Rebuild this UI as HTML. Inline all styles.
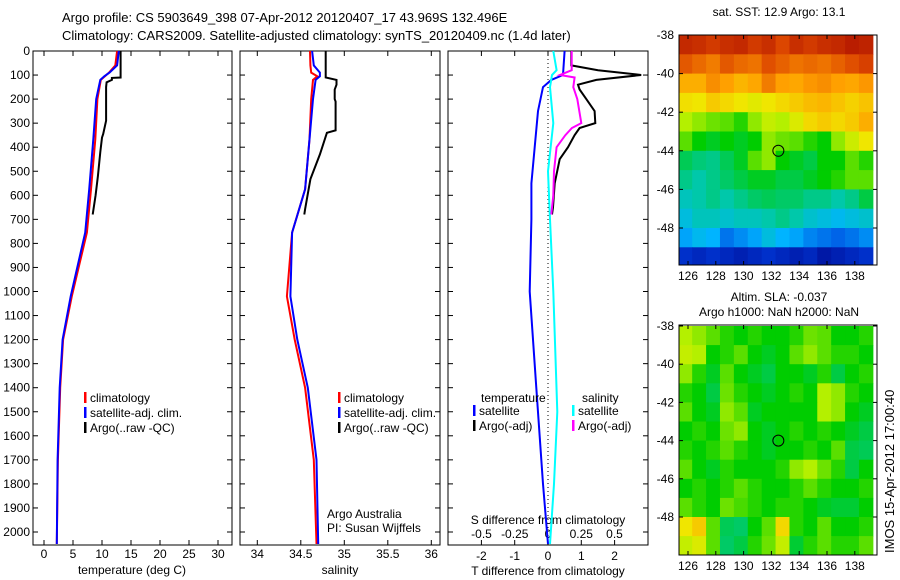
<!DOCTYPE html>
<html><head><meta charset="utf-8"><style>
body{margin:0;background:#fff}
svg{display:block;font-family:"Liberation Sans",sans-serif;font-size:12px}
</style></head><body>
<svg id="fig" width="900" height="580" xmlns="http://www.w3.org/2000/svg">
<rect width="900" height="580" fill="#fff"/>
<text x="62" y="22" font-size="13">Argo profile: CS 5903649_398 07-Apr-2012 20120407_17 43.969S 132.496E</text>
<text x="62" y="40" font-size="13">Climatology: CARS2009. Satellite-adjusted climatology: synTS_20120409.nc (1.4d later)</text>
<g id="p1"></g>
<g id="p2"></g>
<g id="p3"></g>
<g id="m1"></g>
<g id="m2"></g>
<text transform="translate(894,553) rotate(-90)" font-size="13">IMOS 15-Apr-2012 17:00:40</text>
</svg>
<script>
// ---- data ----
const argoTdepth=[0,110,112,120,130,150,290,345,360,420,520,600,680];
const argoT=[13.2,13.2,11.7,11.7,10.8,10.7,10.7,10.2,10.0,9.7,9.3,8.9,8.4];
const climDepth=[0,60,90,105,120,200,367,575,755,1020,1200,1400,1700,2050];
const climT=[12.6,12.3,11.2,10.5,9.8,9.2,8.85,8.1,7.4,4.8,3.3,2.8,2.4,2.2];
const satT=[12.9,12.6,11.3,10.4,9.7,9.0,8.5,7.8,7.1,4.6,3.2,2.7,2.35,2.2];
const argoSdepth=[0,110,120,140,160,200,210,330,340,430,533,658,680];
const argoS=[34.786,34.786,34.91,34.91,34.89,34.89,34.90,34.90,34.80,34.72,34.61,34.55,34.54];
const climS=[34.606,34.61,34.62,34.69,34.64,34.62,34.60,34.55,34.40,34.34,34.43,34.55,34.65,34.68];
const satS=[34.63,34.65,34.72,34.72,34.67,34.64,34.60,34.55,34.40,34.38,34.46,34.58,34.68,34.70];
const dTsatDepth=[0,100,120,150,250,400,550,700,1000,1400,1800,2050];
const dTsat=[0.5,0.45,0.1,-0.15,-0.3,-0.4,-0.5,-0.5,-0.55,-0.35,-0.15,0];
const dTargoDepth=[0,60,80,100,120,140,160,200,250,300,320,350,400,450,550,650,680];
const dTargo=[0.7,0.7,1.5,2.8,1.45,0.9,0.95,1.15,1.4,1.42,0.95,0.8,0.6,0.35,0.2,0.15,0.12];
const dSargoDepth=[0,80,100,110,150,200,300,320,350,400,500,600,680];
const dSargo=[0.178,0.178,0.09,0.2,0.19,0.22,0.25,0.18,0.13,0.065,0.045,0.04,0.025];
const dSsatDepth=[0,80,100,150,300,500,700,1000,1500,1800,2050];
const dSsat=[0.04,0.065,0.03,0.015,0.04,0,0.015,0.04,0.07,0.045,0.015];
const depthTicks=[0,100,200,300,400,500,600,700,800,900,1000,1100,1200,1300,1400,1500,1600,1700,1800,1900,2000];
const tempTicks=[0,5,10,15,20,25,30];
const salTicks=[34,34.5,35,35.5,36];
const tdTicks=[-2,-1,0,1,2];
const sdTicks=[-0.5,-0.25,0,0.25,0.5];
const sdTickLabels=["-0.5","-0.25","0","0.25","0.5"];
const lonTicks=[126,128,130,132,134,136,138];
const latTicks=[-38,-40,-42,-44,-46,-48];
const sstGrid=[
[.93,.92,.9,.92,.93,.9,.92,.88,.92,.9,.92,.93,.95,.94],
[.86,.84,.82,.86,.84,.83,.87,.85,.83,.84,.83,.85,.87,.89],
[.76,.76,.8,.78,.75,.77,.82,.78,.77,.79,.8,.78,.77,.79],
[.69,.68,.72,.7,.68,.66,.68,.7,.72,.74,.75,.73,.71,.73],
[.6,.58,.56,.55,.52,.58,.62,.6,.65,.7,.72,.7,.72,.76],
[.55,.5,.48,.5,.48,.5,.58,.56,.55,.52,.5,.58,.63,.68],
[.45,.43,.42,.45,.48,.55,.58,.5,.48,.46,.5,.5,.55,.52],
[.42,.4,.42,.44,.46,.48,.48,.46,.46,.48,.5,.52,.55,.55],
[.38,.4,.42,.4,.42,.44,.45,.44,.44,.42,.42,.4,.42,.46],
[.34,.38,.38,.36,.38,.38,.4,.42,.4,.36,.34,.32,.34,.36],
[.28,.32,.3,.22,.25,.28,.34,.3,.28,.24,.22,.2,.22,.25],
[.12,.1,.12,.1,.08,.1,.12,.1,.08,.1,.06,.08,.1,.12]];
const slaGrid=[
[.6,.58,.55,.52,.5,.52,.5,.5,.52,.56,.55,.5,.5,.52],
[.62,.6,.5,.52,.55,.5,.48,.5,.55,.58,.55,.52,.52,.5],
[.58,.52,.48,.55,.5,.48,.46,.5,.5,.48,.52,.46,.5,.52],
[.52,.5,.46,.56,.52,.5,.48,.5,.52,.5,.6,.58,.52,.5],
[.55,.5,.48,.58,.55,.48,.5,.5,.5,.5,.6,.58,.5,.48],
[.5,.52,.5,.56,.58,.5,.48,.5,.52,.5,.52,.5,.48,.46],
[.52,.5,.52,.55,.52,.5,.48,.5,.5,.52,.5,.55,.46,.45],
[.55,.5,.48,.52,.5,.5,.5,.52,.58,.6,.56,.52,.46,.5],
[.5,.52,.5,.52,.55,.52,.5,.5,.52,.55,.52,.5,.5,.52],
[.55,.52,.5,.56,.54,.52,.5,.52,.52,.5,.48,.47,.47,.5],
[.68,.72,.55,.45,.44,.5,.55,.7,.52,.5,.55,.5,.5,.52],
[.62,.65,.55,.44,.46,.52,.56,.62,.47,.52,.55,.52,.52,.55]];
const gridLon0=125.3, gridLat0=-38;
const floatLon=132.5, floatLat=-44;

const NS="http://www.w3.org/2000/svg";
function el(parent,tag,attrs,text){const e=document.createElementNS(NS,tag);for(const k in attrs)e.setAttribute(k,attrs[k]);if(text!==undefined)e.textContent=text;parent.appendChild(e);return e;}
const TOP=51,BOT=545;
const yD=d=>TOP+0.2405*d;

function panelFrame(g,x0,x1,leftLabels){
  const f=el(g,'rect',{x:x0,y:TOP,width:x1-x0,height:BOT-TOP,fill:'none',stroke:'#000','stroke-width':1});
  
  
  depthTicks.forEach(d=>{
    const y=yD(d);
    el(g,'line',{x1:x0,x2:x0+5,y1:y,y2:y,stroke:'#000'});
    el(g,'line',{x1:x1-5,x2:x1,y1:y,y2:y,stroke:'#000'});
    if(leftLabels){const t=el(g,'text',{x:x0-3,y:y+4,'text-anchor':'end'},String(d));
      
      }
  });
}
function xTicks(g,ticks,labels,xf,ly){
  ticks.forEach((v,i)=>{const x=xf(v);
    el(g,'line',{x1:x,x2:x,y1:TOP,y2:TOP+5,stroke:'#000'});
    el(g,'line',{x1:x,x2:x,y1:BOT-5,y2:BOT,stroke:'#000'});
    const t=el(g,'text',{x:x,y:ly,'text-anchor':'middle'},labels[i]);
    
    });
}
function line(g,xs,ds,xf,color,w,name){
  const pts=xs.map((v,i)=>xf(v).toFixed(1)+','+yD(ds[i]).toFixed(1)).join(' ');
  const p=el(g,'polyline',{points:pts,fill:'none',stroke:color,'stroke-width':w,'stroke-linejoin':'miter'});
  
  
}
function legend(g,x,y,color,text,name){
  el(g,'rect',{x:x,y:y-10,width:2.5,height:11,fill:color});
  const t=el(g,'text',{x:x+6,y:y},text);
  
  
}
const p1=document.getElementById('p1');
const xT=v=>44+5.8*v;
panelFrame(p1,33,232,true);
xTicks(p1,tempTicks,tempTicks.map(String),xT,558);
el(p1,'text',{x:132,y:574,'text-anchor':'middle'},'temperature (deg C)');
line(p1,argoT,argoTdepth,xT,'#000',2,'argo-temperature-line');
line(p1,climT,climDepth,xT,'#f00',2,'climatology-temperature-line');
line(p1,satT,climDepth,xT,'#00f',2,'satellite-temperature-line');
legend(p1,84,402,'#f00','climatology','legend-climatology');
legend(p1,84,417,'#00f','satellite-adj. clim.','legend-satellite');
legend(p1,84,432,'#000','Argo(..raw -QC)','legend-argo');
const p2=document.getElementById('p2');
const xS=v=>257.3+87*(v-34);
panelFrame(p2,240,440,false);
xTicks(p2,salTicks,["34","34.5","35","35.5","36"],xS,558);
el(p2,'text',{x:340,y:574,'text-anchor':'middle'},'salinity');
line(p2,argoS,argoSdepth,xS,'#000',2,'argo-salinity-line');
line(p2,climS,climDepth,xS,'#f00',2,'climatology-salinity-line');
line(p2,satS,climDepth,xS,'#00f',2,'satellite-salinity-line');
legend(p2,338,402,'#f00','climatology','legend-climatology');
legend(p2,338,417,'#00f','satellite-adj. clim.','legend-satellite');
legend(p2,338,432,'#000','Argo(..raw -QC)','legend-argo');
el(p2,'text',{x:327,y:518},'Argo Australia');
el(p2,'text',{x:327,y:532},'PI: Susan Wijffels');
const p3=document.getElementById('p3');
const xTd=v=>548+33.3*v;
const xSd=v=>548+133*v;
panelFrame(p3,448,648,false);
xTicks(p3,tdTicks,tdTicks.map(String),xTd,560);
sdTicks.forEach((v,i)=>{const t=el(p3,'text',{x:xSd(v),y:538,'text-anchor':'middle'},sdTickLabels[i]);
  
  });
el(p3,'text',{x:548,y:524,'text-anchor':'middle'},'S difference from climatology');
el(p3,'text',{x:548,y:575,'text-anchor':'middle'},'T difference from climatology');
el(p3,'line',{x1:548,x2:548,y1:TOP,y2:BOT,stroke:'#000','stroke-dasharray':'1,3'});
line(p3,dTsat,dTsatDepth,xTd,'#00f',2,'satellite-t-diff-line');
line(p3,dSsat,dSsatDepth,xSd,'#0ff',2,'satellite-s-diff-line');
line(p3,dTargo,dTargoDepth,xTd,'#000',2,'argo-t-diff-line');
line(p3,dSargo,dSargoDepth,xSd,'#f0f',2,'argo-s-diff-line');
el(p3,'text',{x:481,y:402},'temperature');
legend(p3,473,415,'#00f','satellite','legend-t-satellite');
legend(p3,473,430,'#000','Argo(-adj)','legend-t-argo');
el(p3,'text',{x:582,y:402},'salinity');
legend(p3,572,415,'#0ff','satellite','legend-s-satellite');
legend(p3,572,430,'#f0f','Argo(-adj)','legend-s-argo');

const stops=[[0,[0,0,130]],[.15,[0,60,220]],[.3,[0,180,255]],[.4,[0,200,170]],[.5,[0,205,0]],[.6,[180,240,0]],[.68,[240,230,0]],[.78,[255,160,0]],[.88,[220,70,0]],[1,[160,0,0]]];
function cmap(v){v=Math.max(0,Math.min(1,v));for(let i=1;i<stops.length;i++){if(v<=stops[i][0]){const a=stops[i-1],b=stops[i];const t=(v-a[0])/(b[0]-a[0]);return 'rgb('+a[1].map((c,k)=>Math.round(c+(b[1][k]-c)*t)).join(',')+')';}}return 'rgb(160,0,0)';}
function drawMap(g,grid,x0,x1,y0,y1,lat38y,pxPerLat){
  const lonX=lon=>688+13.9*(lon-126);
  const latY=lat=>lat38y+pxPerLat*(-38-lat);
  const cg=el(g,'g',{});
  el(cg,'clipPath',{id:'c'+g.id}).appendChild(document.createElementNS(NS,'rect'));
  const cr=cg.querySelector('clipPath rect');cr.setAttribute('x',x0);cr.setAttribute('y',y0);cr.setAttribute('width',x1-x0);cr.setAttribute('height',y1-y0);
  const cells=el(cg,'g',{'clip-path':'url(#c'+g.id+')'});
  grid.forEach((row,r)=>row.forEach((v,c)=>{
    const xa=lonX(gridLon0+c),xb=lonX(gridLon0+c+1),ya=latY(gridLat0-r),yb=latY(gridLat0-r-1);
    const rc=el(cells,'rect',{x:xa,y:ya,width:xb-xa+0.5,height:yb-ya+0.5,fill:cmap(v)});
    
    
  }));
  el(g,'rect',{x:x0,y:y0,width:x1-x0,height:y1-y0,fill:'none',stroke:'#000'});
  lonTicks.forEach(l=>{const x=lonX(l);
    el(g,'line',{x1:x,x2:x,y1:y0,y2:y0+4,stroke:'#000'});
    el(g,'line',{x1:x,x2:x,y1:y1-4,y2:y1,stroke:'#000'});
    const t=el(g,'text',{x:x,y:y1+15,'text-anchor':'middle'},String(l));
    
    });
  latTicks.forEach(l=>{const y=latY(l);
    el(g,'line',{x1:x0,x2:x0+4,y1:y,y2:y,stroke:'#000'});
    el(g,'line',{x1:x1-4,x2:x1,y1:y,y2:y,stroke:'#000'});
    const t=el(g,'text',{x:x0-5,y:y+4,'text-anchor':'end'},String(l));
    
    });
  const m=el(g,'circle',{cx:lonX(floatLon),cy:latY(floatLat),r:5.5,fill:'none',stroke:'#000'});
  
  
}
const m1=document.getElementById('m1');
drawMap(m1,sstGrid,679,877,35,265,35,19.3);
el(m1,'text',{x:779,y:16,'text-anchor':'middle'},'sat. SST: 12.9 Argo: 13.1');
const m2=document.getElementById('m2');
drawMap(m2,slaGrid,679,877,325,555,326,19.1);
el(m2,'text',{x:779,y:301,'text-anchor':'middle'},'Altim. SLA: -0.037');
el(m2,'text',{x:779,y:316,'text-anchor':'middle'},'Argo h1000: NaN h2000: NaN');
</script>
</body></html>
